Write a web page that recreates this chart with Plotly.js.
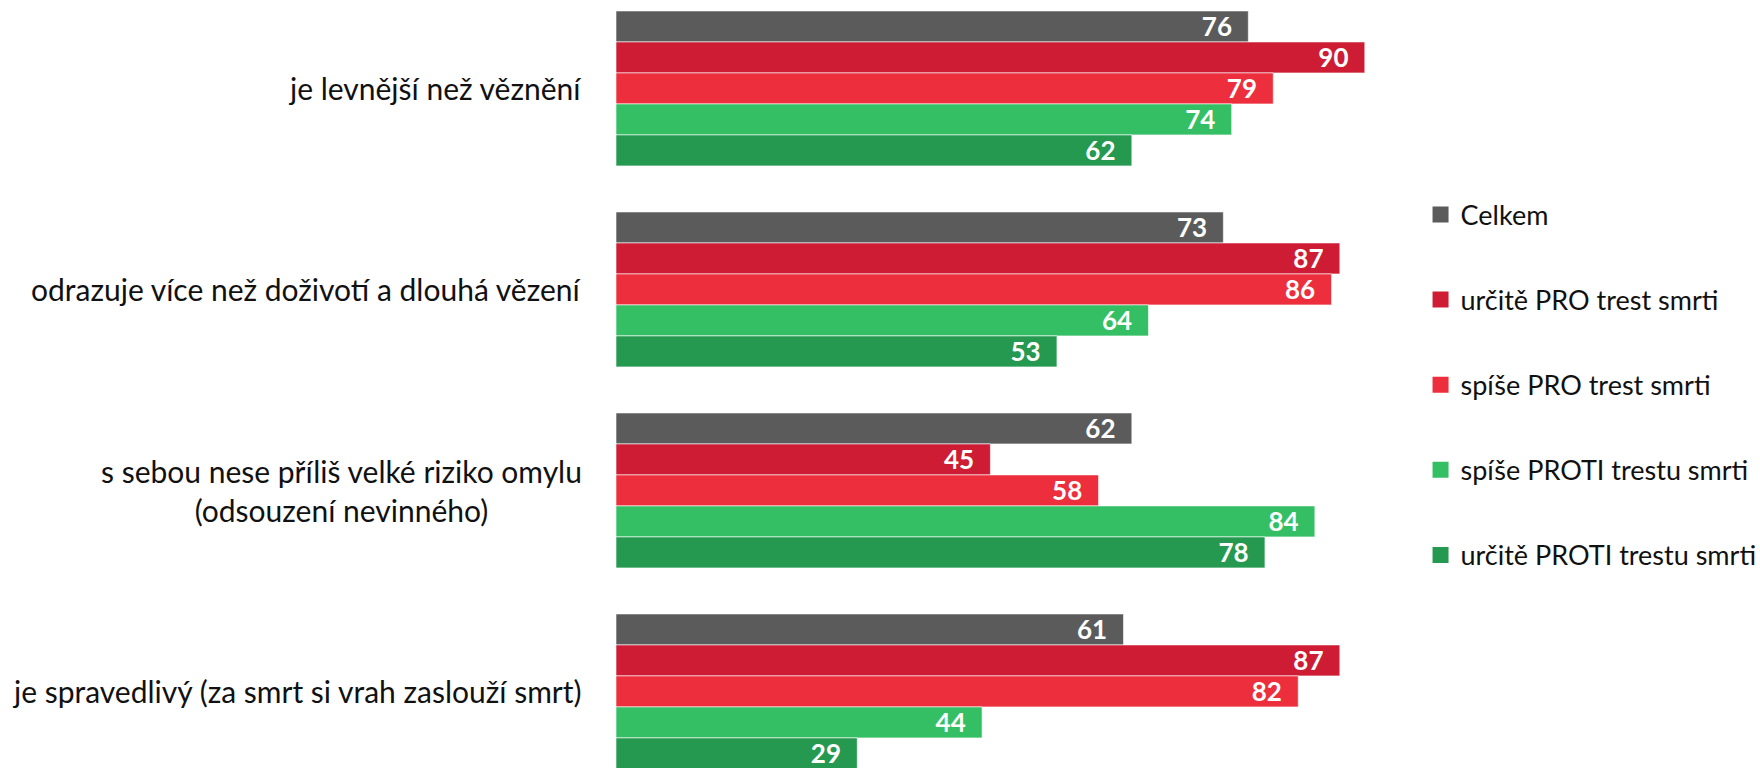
<!DOCTYPE html>
<html>
<head>
<meta charset="utf-8">
<script src="https://cdn.plot.ly/plotly-3.0.1.min.js"></script>
<style>html,body{margin:0;padding:0;background:#fff;}#chart{width:1760px;height:768px;}</style>
</head>
<body>
<div id="chart"></div>
<script>
const categories = [
  "je levnější než věznění",
  "odrazuje více než doživotí a dlouhá vězení",
  "s sebou nese příliš velké riziko omylu<br>(odsouzení nevinného)",
  "je spravedlivý (za smrt si vrah zaslouží smrt)"
];
const seriesNames = [
  "Celkem",
  "určitě PRO trest smrti",
  "spíše PRO trest smrti",
  "spíše PROTI trestu smrti",
  "určitě PROTI trestu smrti"
];
const celkem      = [76, 73, 62, 61];
const urcitePro   = [90, 87, 45, 87];
const spisePro    = [79, 86, 58, 82];
const spiseProti  = [74, 64, 84, 44];
const urciteProti = [62, 53, 78, 29];
const colors = ["#5b5b5b", "#cd1c34", "#ed2e3c", "#35bf65", "#259950"];

const FONT = "Lato, 'Open Sans', sans-serif";
const allSeries = [celkem, urcitePro, spisePro, spiseProti, urciteProti];

const barTraces = allSeries.map((vals, i) => ({
  type: "bar",
  orientation: "h",
  name: seriesNames[i],
  legendgroup: "g" + i,
  showlegend: false,
  y: categories,
  x: vals,
  marker: {color: colors[i], line: {color: "#ffffff", width: 0.6}},
  text: vals.map(String),
  texttemplate: "<b>%{text}</b>\u00a0\u00a0",
  textposition: "inside",
  insidetextanchor: "end",
  constraintext: "none",
  textfont: {color: "#ffffff", size: 26, family: FONT},
  hoverinfo: "x+name"
}));

// legend-only entries (larger square swatches)
const legendTraces = seriesNames.map((n, i) => ({
  type: "scatter",
  mode: "markers",
  name: n,
  legendgroup: "g" + i,
  x: [null], y: [null],
  marker: {symbol: "square", size: 16, color: colors[i]},
  hoverinfo: "skip"
}));

const annotations = categories.map(c => ({
  xref: "paper", yref: "y",
  x: -0.038, y: c,
  xanchor: "right", yanchor: "middle",
  align: "center",
  text: c,
  showarrow: false,
  font: {family: FONT, size: 30, color: "#111111"}
}));

const layout = {
  width: 1760, height: 768,
  margin: {l: 616, r: 312, t: 0, b: 0, pad: 0, autoexpand: false},
  paper_bgcolor: "#ffffff",
  plot_bgcolor: "#ffffff",
  barmode: "group",
  bargap: 0.229,
  bargroupgap: 0,
  showlegend: true,
  legend: {
    x: 0.967, xanchor: "left",
    y: 0.752, yanchor: "top",
    traceorder: "grouped",
    tracegroupgap: 47,
    font: {family: FONT, size: 27, color: "#111111"},
    bgcolor: "rgba(0,0,0,0)"
  },
  xaxis: {range: [0, 100], visible: false, showgrid: false, zeroline: false, fixedrange: true},
  yaxis: {type: "category", range: [3.381, -0.44], showticklabels: false, showgrid: false,
          zeroline: false, showline: false, ticks: "", fixedrange: true},
  annotations: annotations,
  font: {family: FONT}
};

Plotly.newPlot("chart", barTraces.concat(legendTraces), layout, {displayModeBar: false, staticPlot: true});
</script>
</body>
</html>
